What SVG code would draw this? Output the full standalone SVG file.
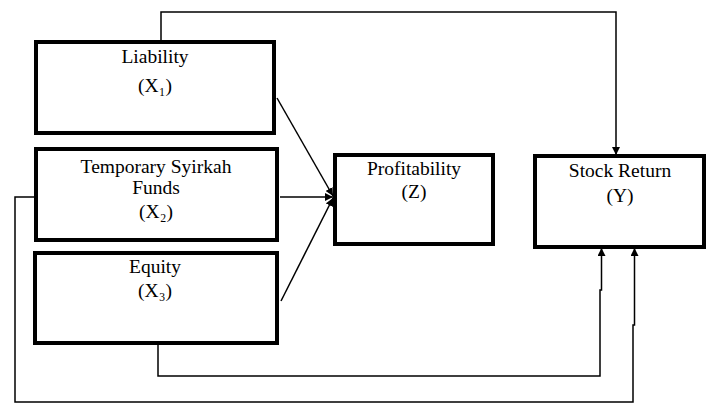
<svg xmlns="http://www.w3.org/2000/svg" width="710" height="405" viewBox="0 0 710 405">
<defs>
<marker id="ah" viewBox="0 0 10 10" refX="10" refY="5" markerWidth="8" markerHeight="8" markerUnits="userSpaceOnUse" orient="auto">
<path d="M0,0 L10,5 L0,10 z" fill="#000"/>
</marker>
</defs>
<style>
.box{fill:#fff;stroke:#000;stroke-width:4}
.lbl{font-family:"Liberation Serif","DejaVu Serif",serif;font-size:19.5px;fill:#000;text-anchor:middle}
.con{fill:none;stroke:#000;stroke-width:1.5}
</style>
<rect width="710" height="405" fill="#fff"/>
<g id="connectors">
<path class="con" d="M161,40 V12 H616 V155" marker-end="url(#ah)"/>
<path class="con" d="M277,98 L333,196" marker-end="url(#ah)"/>
<path class="con" d="M280,197 H333" marker-end="url(#ah)"/>
<path class="con" d="M281,301 L333,198" marker-end="url(#ah)"/>
<path class="con" d="M158,344 V376 H600 V290 H601.5 V248" marker-end="url(#ah)"/>
<path class="con" d="M34,197 H15 V402 H633 V325 H634.5 V248" marker-end="url(#ah)"/>
</g>
<g id="liability">
<rect class="box" x="36" y="42" width="238" height="91"/>
<text class="lbl" x="155" y="63">Liability</text>
<text class="lbl" x="155" y="92">(X₁)</text>
</g>
<g id="temporary">
<rect class="box" x="36" y="149" width="241" height="91"/>
<text class="lbl" x="156" y="173">Temporary Syirkah</text>
<text class="lbl" x="156" y="194">Funds</text>
<text class="lbl" x="156" y="218">(X₂)</text>
</g>
<g id="equity">
<rect class="box" x="35" y="253" width="242" height="90"/>
<text class="lbl" x="155" y="273">Equity</text>
<text class="lbl" x="155" y="297">(X₃)</text>
</g>
<g id="profitability">
<rect class="box" x="335" y="155" width="158" height="89"/>
<text class="lbl" x="414" y="175">Profitability</text>
<text class="lbl" x="414" y="198">(Z)</text>
</g>
<g id="stockreturn">
<rect class="box" x="535" y="156" width="169" height="91"/>
<text class="lbl" x="620" y="177">Stock Return</text>
<text class="lbl" x="620" y="202">(Y)</text>
</g>
</svg>
